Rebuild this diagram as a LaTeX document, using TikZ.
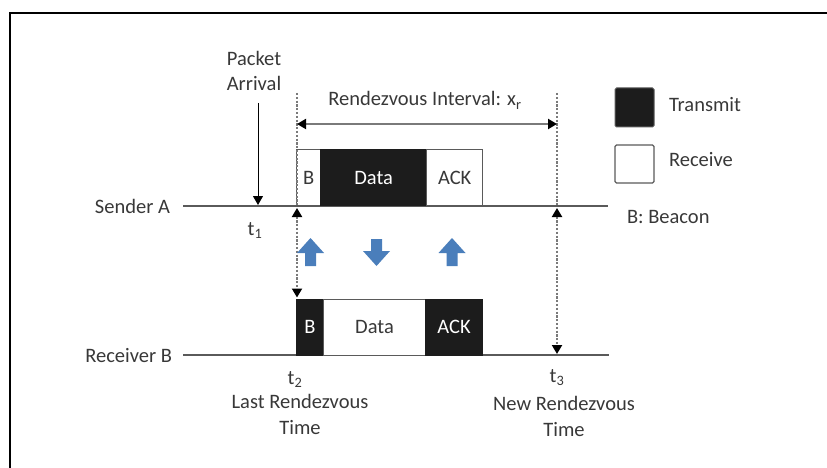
\documentclass[tikz,border=0pt]{standalone}
\usepackage{fontspec}
\setmainfont{Carlito}
\usetikzlibrary{arrows.meta}
\definecolor{txt}{HTML}{383838}
\definecolor{blk}{HTML}{1C1C1C}
\definecolor{ln}{HTML}{5A5A5A}
\definecolor{dsh}{HTML}{7A7A7A}
\definecolor{blu}{HTML}{4A7EBB}
\begin{document}
\begin{tikzpicture}[x=1pt,y=-1pt,
  font=\fontsize{20.5}{25.5}\selectfont,
  lbl/.style={text=txt, inner sep=0pt, outer sep=0pt},
  seg/.style={inner sep=0pt, outer sep=0pt, minimum height=56pt, line width=0.9pt},
  txbox/.style={seg, draw=blk, fill=blk, text=white},
  rxbox/.style={seg, draw=ln, fill=white, text=txt},
  timeline/.style={draw=ln, line width=1.3pt},
  guide/.style={draw=dsh, line width=2pt, dash pattern=on 2.2pt off 1.6pt},
  tip/.style={-{Triangle[length=9pt,width=10pt]}},
  tips/.style={{Triangle[length=9pt,width=10pt,black]}-{Triangle[length=9pt,width=10pt,black]}},
  uparrow/.pic={\fill[blu] (0,0) -- (13.5,15) -- (5.5,15) -- (5.5,28) -- (-5.5,28) -- (-5.5,15) -- (-13.5,15) -- cycle;},
  downarrow/.pic={\fill[blu] (0,0) -- (13.5,-15) -- (5.5,-15) -- (5.5,-27) -- (-5.5,-27) -- (-5.5,-15) -- (-13.5,-15) -- cycle;}
]
\useasboundingbox (0,0) rectangle (827,468);
% frame
\draw[line width=2pt] (10,468) -- (10,13.5) -- (827,13.5);

% coordinates
\coordinate (sA0) at (183,206);
\coordinate (sA1) at (608,206);
\coordinate (rB0) at (183,355);
\coordinate (rB1) at (609,355);
\coordinate (pa) at (258,103);
\coordinate (t1) at (258,205);
\coordinate (g2top) at (297,93);
\coordinate (g2mid) at (297,206);
\coordinate (g2a) at (297,208);
\coordinate (g2b) at (297,297.5);
\coordinate (g3top) at (557,93);
\coordinate (g3mid) at (557,206);
\coordinate (g3a) at (557,208);
\coordinate (g3b) at (557,354);
\coordinate (iL) at (297,124);
\coordinate (iR) at (557,124);

% labels
\node[lbl, anchor=base east] (sender) at (170,213) {Sender A};
\node[lbl, anchor=base east] (receiver) at (172,362) {Receiver B};
\node[lbl, anchor=base, align=center] (pkt) at (254,91) {Packet\\Arrival};
\node[lbl, anchor=base] (interval) at (425,106) {Rendezvous Interval: x\textsubscript{r}};
\node[lbl, anchor=base] (lt1) at (255,235) {t\textsubscript{1}};
\node[lbl, anchor=base] (lt2) at (295,384) {t\textsubscript{2}};
\node[lbl, anchor=base] (lt3) at (557,382) {t\textsubscript{3}};
\node[lbl, anchor=base, align=center] (last) at (300,434) {Last Rendezvous\\Time};
\node[lbl, anchor=base, align=center] (new) at (564,436) {New Rendezvous\\Time};

% timelines
\draw[timeline] (sA0) -- (sA1);
\draw[timeline] (rB0) -- (rB1);

% sender boxes
\node[rxbox, minimum width=24pt] (sB) at (308.7,177.5) {B};
\node[txbox, minimum width=106pt] (sD) at (373.7,177.5) {Data};
\node[rxbox, minimum width=56pt] (sK) at (454.7,177.5) {ACK};
% receiver boxes
\node[txbox, minimum width=27pt] (rBb) at (310,327) {B};
\node[rxbox, minimum width=102.4pt] (rD) at (374.5,327) {Data};
\node[txbox, minimum width=56.3pt] (rK) at (454,327) {ACK};

% guides
\draw[guide] (g2top) -- (g2mid);
\draw[guide, tips] (g2a) -- (g2b);
\draw[guide] (g3top) -- (g3mid);
\draw[guide, tips] (g3a) -- (g3b);

% interval arrow
\draw[draw=dsh, line width=2pt, tips] (iL) -- (iR);

% packet arrival
\draw[line width=1pt, black, tip] (pa) -- (t1);

% blue arrows
\pic at (310.5,238) {uparrow};
\pic at (376.5,266) {downarrow};
\pic at (452,238) {uparrow};

% legend
\draw[ln, fill=blk, line width=1pt, rounded corners=1.5pt] (615,88) rectangle (654,127);
\node[lbl, anchor=base west] (ltx) at (669,112) {Transmit};
\draw[ln, fill=white, line width=1.2pt, rounded corners=1.5pt] (615,145) rectangle (654,183);
\node[lbl, anchor=base west] (lrx) at (669,167) {Receive};
\node[lbl, anchor=base west] (beacon) at (627,223) {B: Beacon};
\end{tikzpicture}
\end{document}
